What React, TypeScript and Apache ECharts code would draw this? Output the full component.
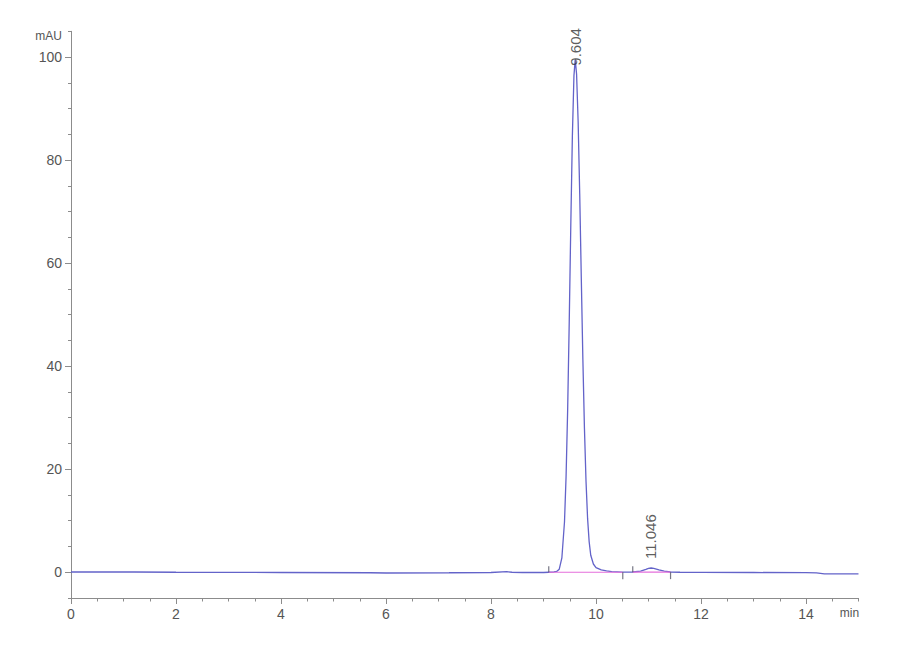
import React, { useEffect, useRef } from "react";
import * as echarts from "echarts";

// Retention time (min) and absorbance (mAU) of the trace
const times = [
  0, 1.2, 2, 4, 5.7, 6, 7.2, 8, 8.3, 8.4, 8.6, 9.0, 9.1, 9.2, 9.25, 9.3, 9.35,
  9.4, 9.43, 9.46, 9.49, 9.52, 9.55, 9.58, 9.604, 9.63, 9.66, 9.69, 9.72, 9.75,
  9.78, 9.81, 9.84, 9.87, 9.9, 9.95, 10.0, 10.1, 10.2, 10.3, 10.5, 10.7, 10.85,
  10.95, 11.0, 11.05, 11.1, 11.2, 11.3, 11.42, 11.6, 12, 13, 14, 14.2, 14.35, 15,
];
const absorbance = [
  0.05, 0.05, 0.0, -0.05, -0.1, -0.15, -0.1, -0.05, 0.1, 0.0, -0.05, -0.05, 0.0,
  0.05, 0.15, 0.6, 2.8, 9.8, 18.6, 31.5, 48.5, 67.4, 84.7, 96.4, 99.5, 96.7,
  87.4, 73.4, 57.0, 41.3, 27.9, 17.6, 10.4, 5.9, 3.3, 1.6, 0.9, 0.45, 0.25,
  0.12, 0.02, 0.05, 0.2, 0.55, 0.75, 0.82, 0.75, 0.45, 0.2, 0.05, 0.0, -0.02,
  -0.05, -0.08, -0.12, -0.3, -0.32,
];

// Integrated peaks
const peakNames = ["9.604", "11.046"];
const peakTimes = [9.604, 11.046];
const peakHeights = [99.5, 0.82];
const peakStarts = [9.1, 10.7];
const peakEnds = [10.51, 11.42];
const baselineLevels = [0.0, 0.02];

// Axes
const xTicks = [0, 2, 4, 6, 8, 10, 12, 14];
const xMax = 15;
const yTicks = [0, 20, 40, 60, 80, 100];
const yMin = -5;
const yMax = 105;
const xUnit = "min";
const yUnit = "mAU";

const AXIS_COLOR = "#8c8c8c";
const LABEL_COLOR = "#555555";
const NARROW = "'Liberation Sans Narrow', 'Arial Narrow', 'Liberation Sans', Arial, sans-serif";
const SANS = "'Liberation Sans', Arial, sans-serif";

export default function App() {
  const ref = useRef<HTMLDivElement>(null);

  useEffect(() => {
    if (!ref.current) return;
    const chart = echarts.init(ref.current, null, { renderer: "svg" });

    const trace = times.map((t, i) => [t, absorbance[i]]);
    const baseline: any[] = [];
    peakStarts.forEach((s, i) => {
      baseline.push([s, baselineLevels[i]]);
      baseline.push([peakEnds[i], baselineLevels[i]]);
      baseline.push("-");
    });
    const labelData = peakNames.map((n, i) => ({
      value: [peakTimes[i], peakHeights[i]],
      name: n,
      label: { distance: i === 0 ? -6 : 9 },
    }));

    const option: any = {
      animation: false,
      backgroundColor: "#ffffff",
      grid: { left: 71, right: 41.5, top: 31.3, bottom: 62 },
      xAxis: [
        {
          type: "value",
          position: "bottom",
          min: 0,
          max: xMax,
          axisLine: { show: true, onZero: false, lineStyle: { color: AXIS_COLOR, width: 1 } },
          axisTick: { show: true, length: 6, customValues: xTicks, lineStyle: { color: AXIS_COLOR } },
          axisLabel: {
            customValues: [...xTicks, xMax],
            formatter: (v: number) => (v === xMax ? `{u|${xUnit}}` : String(v)),
            margin: 9,
            color: LABEL_COLOR,
            fontFamily: NARROW,
            fontSize: 14,
            rich: { u: { fontFamily: NARROW, fontSize: 12, color: LABEL_COLOR, padding: [0, 18, 0, 0] } },
          },
          splitLine: { show: false },
        },
        {
          type: "value",
          position: "bottom",
          min: 0,
          max: xMax,
          interval: 0.5,
          axisLine: { show: false, onZero: false },
          axisTick: { show: true, length: 3.5, lineStyle: { color: AXIS_COLOR } },
          axisLabel: { show: false },
          splitLine: { show: false },
        },
      ],
      yAxis: [
        {
          type: "value",
          position: "left",
          min: yMin,
          max: yMax,
          axisLine: { show: true, onZero: false, lineStyle: { color: AXIS_COLOR, width: 1 } },
          axisTick: { show: true, length: 6, customValues: yTicks, lineStyle: { color: AXIS_COLOR } },
          axisLabel: {
            customValues: [...yTicks, yMax],
            formatter: (v: number) => (v === yMax ? `{u|${yUnit}}` : String(v)),
            margin: 9,
            color: LABEL_COLOR,
            fontFamily: NARROW,
            fontSize: 14,
            rich: { u: { fontFamily: NARROW, fontSize: 12, color: LABEL_COLOR, padding: [10, 0, 0, 0] } },
          },
          splitLine: { show: false },
        },
        {
          type: "value",
          position: "left",
          min: yMin,
          max: yMax,
          interval: 5,
          axisLine: { show: false, onZero: false },
          axisTick: { show: true, length: 3, lineStyle: { color: AXIS_COLOR } },
          axisLabel: { show: false },
          splitLine: { show: false },
        },
      ],
      series: [
        {
          type: "line",
          data: trace,
          showSymbol: false,
          symbol: "none",
          lineStyle: { color: "#6363c9", width: 1.3 },
          z: 2,
        },
        {
          type: "line",
          data: baseline,
          showSymbol: false,
          symbol: "none",
          connectNulls: false,
          lineStyle: { color: "#e56fdc", width: 1.2 },
          z: 3,
        },
        {
          type: "scatter",
          data: peakStarts.map((s, i) => [s, baselineLevels[i]]),
          symbol: "rect",
          symbolSize: [1.2, 6],
          symbolOffset: [0, "-50%"],
          itemStyle: { color: "#555566" },
          z: 4,
        },
        {
          type: "scatter",
          data: peakEnds.map((e, i) => [e, baselineLevels[i]]),
          symbol: "rect",
          symbolSize: [1.2, 7],
          symbolOffset: [0, "50%"],
          itemStyle: { color: "#555566" },
          z: 4,
        },
        {
          type: "scatter",
          data: labelData,
          symbolSize: 0,
          label: {
            show: true,
            position: "top",
            rotate: 90,
            align: "left",
            verticalAlign: "middle",
            formatter: (p: any) => p.name,
            fontFamily: SANS,
            fontSize: 15,
            color: "#333333",
          },
          z: 5,
        },
      ],
    };

    chart.setOption(option);
    return () => chart.dispose();
  }, []);

  return (
    <div
      ref={ref}
      style={{ position: "fixed", left: 0, top: 0, width: 900, height: 660, background: "#fff" }}
    />
  );
}
